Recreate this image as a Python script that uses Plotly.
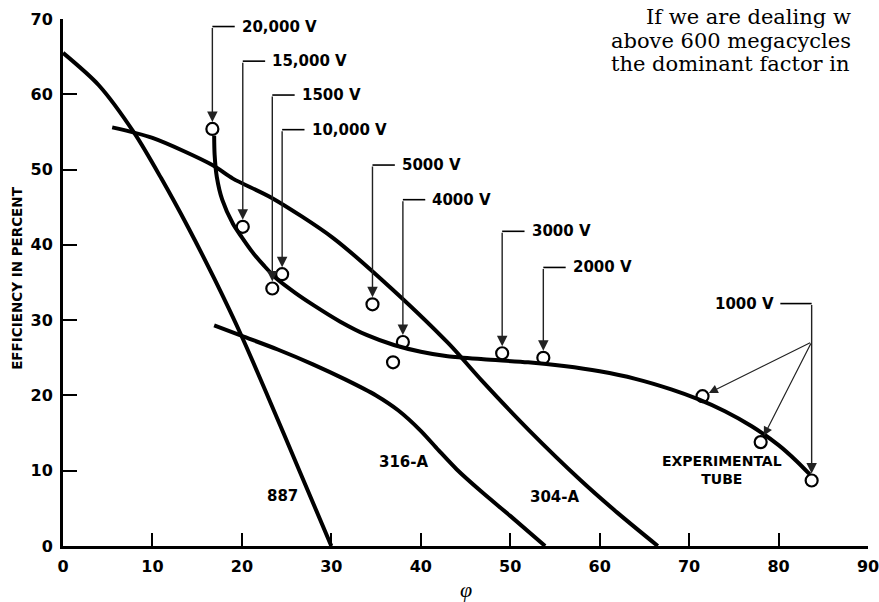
import plotly.graph_objects as go

# ---- data ----
tube_887_phi = [0, 4, 8, 11, 14, 17, 20, 23, 26.5, 30]
tube_887_eff = [65.5, 61.2, 54.8, 48.8, 42.3, 35.3, 27.8, 19.6, 9.8, 0]

tube_316a_phi = [16.9, 20, 24, 28, 31.6, 35, 37.5, 40, 42, 44, 46.8, 50, 53.9]
tube_316a_eff = [29.3, 27.9, 26.1, 24.1, 22.1, 20.0, 18.0, 15.3, 12.7, 10.2, 7.2, 4.0, 0]

tube_304a_phi = [5.5, 10, 16.7, 19, 23.4, 30.1, 35.7, 43.1, 46.8, 52, 57.9, 62, 66.5]
tube_304a_eff = [55.6, 54.2, 50.6, 48.8, 46.2, 41, 35.3, 26.9, 22, 15.5, 8.7, 4.4, 0]

exp_phi = [16.9, 16.95, 17.2, 17.8, 19.0, 20.0, 21.2, 22.5, 23.8, 26, 28, 31, 34, 37, 40,
           43, 47, 52, 56, 60, 64, 68, 71, 74, 77, 80, 82, 83.5]
exp_eff = [54.5, 52.0, 49.0, 46.0, 42.8, 41.0, 39.0, 37.2, 35.6, 33.6, 32.0, 29.8, 28.0,
           26.7, 25.8, 25.2, 24.8, 24.4, 23.9, 23.2, 22.2, 20.8, 19.5, 17.9, 15.9, 13.4,
           11.3, 9.5]

volt_labels = ["20,000 V", "15,000 V", "1500 V", "10,000 V", "5000 V", "4000 V", "3000 V", "2000 V"]
volt_phi = [16.7, 20.1, 23.4, 24.5, 34.6, 38.0, 49.1, 53.7]
volt_eff = [55.4, 42.4, 34.2, 36.1, 32.1, 27.1, 25.6, 25.0]
volt_label_eff = [69.0, 64.4, 59.9, 55.3, 50.6, 46.0, 41.8, 37.0]

extra_phi = [36.9]
extra_eff = [24.4]

kv1_label = "1000 V"
kv1_phi = [71.5, 78.0, 83.7]
kv1_eff = [19.9, 13.8, 8.7]
kv1_label_eff = 32.2
kv1_branch_eff = 27.1

curve_names = ["887", "316-A", "304-A"]
curve_label_phi = [24.5, 38.1, 55.0]
curve_label_eff = [6.7, 11.1, 6.5]

x_ticks = [0, 10, 20, 30, 40, 50, 60, 70, 80, 90]
y_ticks = [0, 10, 20, 30, 40, 50, 60, 70]

para_lines = ["If we are dealing w", "above 600 megacycles", "the dominant factor in"]

# ---- figure ----
LBL = dict(family="DejaVu Sans", size=15, color="black")
fig = go.Figure()
line_style = dict(color="black", width=4, shape="spline", smoothing=0.8)
for px_, py_ in [(tube_887_phi, tube_887_eff), (tube_316a_phi, tube_316a_eff),
                 (tube_304a_phi, tube_304a_eff), (exp_phi, exp_eff)]:
    fig.add_trace(go.Scatter(x=px_, y=py_, mode="lines", line=line_style,
                             hoverinfo="skip", showlegend=False))

circ = dict(symbol="circle-open", size=12, color="black", line=dict(width=2.2))
fig.add_trace(go.Scatter(x=volt_phi + extra_phi + kv1_phi,
                         y=volt_eff + extra_eff + kv1_eff,
                         mode="markers", marker=circ, showlegend=False))

ann = []
shapes = []
GAP = 2.5
for lab, cx, cy, ly in zip(volt_labels, volt_phi, volt_eff, volt_label_eff):
    ann.append(dict(x=cx, y=cy, ax=cx, ay=ly, xref="x", yref="y", axref="x", ayref="y",
                    showarrow=True, arrowhead=2, arrowsize=1.5, arrowwidth=1.4,
                    arrowcolor="#222", standoff=7, text=""))
    shapes.append(dict(type="line", x0=cx, x1=cx + GAP, y0=ly, y1=ly, xref="x", yref="y",
                       line=dict(color="black", width=1.6)))
    ann.append(dict(x=cx + GAP, y=ly, xref="x", yref="y", text="<b>%s</b>" % lab,
                    showarrow=False, xanchor="left", xshift=5, font=LBL))

# 1000 V bracket
kx = kv1_phi[-1]
ann.append(dict(x=kx, y=kv1_eff[-1], ax=kx, ay=kv1_label_eff, xref="x", yref="y",
                axref="x", ayref="y", showarrow=True, arrowhead=2, arrowsize=1.5,
                arrowwidth=1.4, arrowcolor="#222", standoff=7, text=""))
for cx, cy in zip(kv1_phi[:-1], kv1_eff[:-1]):
    ann.append(dict(x=cx, y=cy, ax=kx, ay=kv1_branch_eff, xref="x", yref="y",
                    axref="x", ayref="y", showarrow=True, arrowhead=2, arrowsize=1.5,
                    arrowwidth=1.2, arrowcolor="#222", standoff=7, text=""))
shapes.append(dict(type="line", x0=kx - 3.5, x1=kx, y0=kv1_label_eff, y1=kv1_label_eff,
                   xref="x", yref="y", line=dict(color="black", width=1.6)))
ann.append(dict(x=kx - 3.5, y=kv1_label_eff, xref="x", yref="y", text="<b>%s</b>" % kv1_label,
                showarrow=False, xanchor="right", xshift=-4, font=LBL))

for name, lx, ly in zip(curve_names, curve_label_phi, curve_label_eff):
    ann.append(dict(x=lx, y=ly, xref="x", yref="y", text="<b>%s</b>" % name,
                    showarrow=False, font=dict(family="DejaVu Sans", size=15, color="black")))
ann.append(dict(x=73.7, y=10.1, xref="x", yref="y", text="<b>EXPERIMENTAL<br>TUBE</b>",
                showarrow=False, font=dict(family="DejaVu Sans", size=14, color="black")))

# axis titles
ann.append(dict(x=-0.057, y=35.5, xref="paper", yref="y", text="<b>EFFICIENCY IN PERCENT</b>",
                textangle=-90, showarrow=False, xanchor="center", yanchor="middle",
                font=dict(family="DejaVu Sans", size=13.5, color="black")))
ann.append(dict(x=45, y=-0.082, xref="x", yref="paper", text="<i>φ</i>", showarrow=False,
                xanchor="center", yanchor="middle",
                font=dict(family="Liberation Serif", size=22, color="black")))

# paragraph text top-right (page text around the figure)
para_x = [0.7231, 0.6799, 0.6799]
para_y = [1.004, 0.959, 0.914]
for t, x_, y_ in zip(para_lines, para_x, para_y):
    ann.append(dict(x=x_, y=y_, xref="paper", yref="paper", text=t, showarrow=False,
                    xanchor="left", yanchor="middle", borderpad=0,
                    font=dict(family="DejaVu Serif", size=21, color="black")))

fig.update_layout(
    width=879, height=602, margin=dict(l=63, r=11, t=19, b=56, autoexpand=False),
    paper_bgcolor="white", plot_bgcolor="white",
    annotations=ann, shapes=shapes, showlegend=False,
    xaxis=dict(range=[0, 90], tickvals=x_ticks, showgrid=False, zeroline=False,
               showline=True, linecolor="black", linewidth=3, ticks="inside", ticklen=13,
               tickwidth=2, tickcolor="black", ticklabelstandoff=4, ticklabeloverflow="allow",
               tickfont=dict(family="DejaVu Sans", size=16, color="black", weight="bold")),
    yaxis=dict(range=[0, 70], tickvals=y_ticks, showgrid=False, zeroline=False,
               showline=True, linecolor="black", linewidth=3, ticks="inside", ticklen=14,
               tickwidth=2, tickcolor="black", ticklabelstandoff=4,
               tickfont=dict(family="DejaVu Sans", size=16, color="black", weight="bold")),
)
fig.write_html("out.html", config={"displayModeBar": False},
               post_script="document.body.style.margin='0';")
